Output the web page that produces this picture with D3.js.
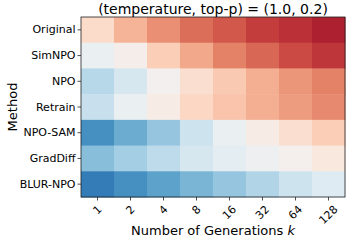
<!DOCTYPE html>
<html><head><meta charset="utf-8">
<script src="https://cdn.jsdelivr.net/npm/d3@7"></script>
<style>body{margin:0;background:#fff}svg{display:block}text{font-family:"DejaVu Sans",sans-serif;fill:#000}</style>
</head><body><svg id="c" width="346" height="246"></svg>
<script>
const methods = ["Original","SimNPO","NPO","Retrain","NPO-SAM","GradDiff","BLUR-NPO"];
const generations = ["1","2","4","8","16","32","64","128"];
// normalized score per method (rows) and k (cols): 0 = deep blue, 0.5 = neutral, 1 = deep red
const original = [0.59,0.67,0.73,0.78,0.81,0.85,0.87,0.90];
const simnpo   = [0.47,0.52,0.62,0.69,0.75,0.79,0.83,0.86];
const npo      = [0.36,0.42,0.50,0.58,0.63,0.68,0.72,0.75];
const retrain  = [0.39,0.47,0.53,0.60,0.64,0.68,0.71,0.74];
const npoSam   = [0.19,0.25,0.31,0.40,0.47,0.53,0.58,0.62];
const gradDiff = [0.29,0.33,0.37,0.42,0.45,0.48,0.51,0.55];
const blurNpo  = [0.15,0.19,0.23,0.27,0.31,0.35,0.40,0.44];
const rows = [original, simnpo, npo, retrain, npoSam, gradDiff, blurNpo];
const title = "(temperature, top-p) = (1.0, 0.2)";

const svg = d3.select("#c");
const L=81, R=345, T=17, B=197;
const x = d3.scaleBand().domain(generations).range([L,R]);
const y = d3.scaleBand().domain(methods).range([T,B]);
const color = v => d3.interpolateRdBu(1 - v);

const cells = [];
rows.forEach((r,i)=>r.forEach((v,j)=>cells.push({m:methods[i],g:generations[j],v})));
svg.append("g").selectAll("rect").data(cells).join("rect")
  .attr("x",d=>x(d.g)).attr("y",d=>y(d.m))
  .attr("width",x.bandwidth()+0.5).attr("height",y.bandwidth()+0.5)
  .attr("fill",d=>color(d.v));

svg.append("rect").attr("x",L).attr("y",T).attr("width",R-L).attr("height",B-T)
  .attr("fill","none").attr("stroke","#222").attr("stroke-width",0.8);

// y axis
const ya = svg.append("g").attr("transform",`translate(${L},0)`)
  .call(d3.axisLeft(y).tickSize(3.5).tickPadding(2));
ya.select(".domain").remove();
ya.selectAll("line").attr("stroke","#222").attr("stroke-width",0.8);
ya.selectAll("text").style("font-size","11px").attr("font-family","DejaVu Sans").attr("fill","#000");

// x axis
const xa = svg.append("g").attr("transform",`translate(0,${B})`)
  .call(d3.axisBottom(x).tickSize(3.5));
xa.select(".domain").remove();
xa.selectAll("line").attr("stroke","#222").attr("stroke-width",0.8);
xa.selectAll("text").style("font-size","11px").attr("font-family","DejaVu Sans").attr("fill","#000")
  .attr("text-anchor","middle").attr("dy",null).attr("y",null)
  .attr("dominant-baseline","central")
  .each(function(){
    const w=this.getComputedTextLength(), h=8.5;
    const cy=7.5+(w+h)/(2*Math.SQRT2);
    d3.select(this).attr("transform",`translate(0,${cy}) rotate(-45)`);
  });

svg.append("text").attr("x",(L+R)/2).attr("y",13.5).attr("text-anchor","middle")
  .style("font-size","14px").text(title);

const xl = svg.append("text").attr("x",(L+R)/2).attr("y",235).attr("text-anchor","middle").style("font-size","13px");
xl.append("tspan").text("Number of Generations ");
xl.append("tspan").attr("font-style","italic").text("k");

svg.append("text").attr("transform",`translate(17,${(T+B)/2}) rotate(-90)`).attr("text-anchor","middle")
  .style("font-size","13px").text("Method");
</script></body></html>
